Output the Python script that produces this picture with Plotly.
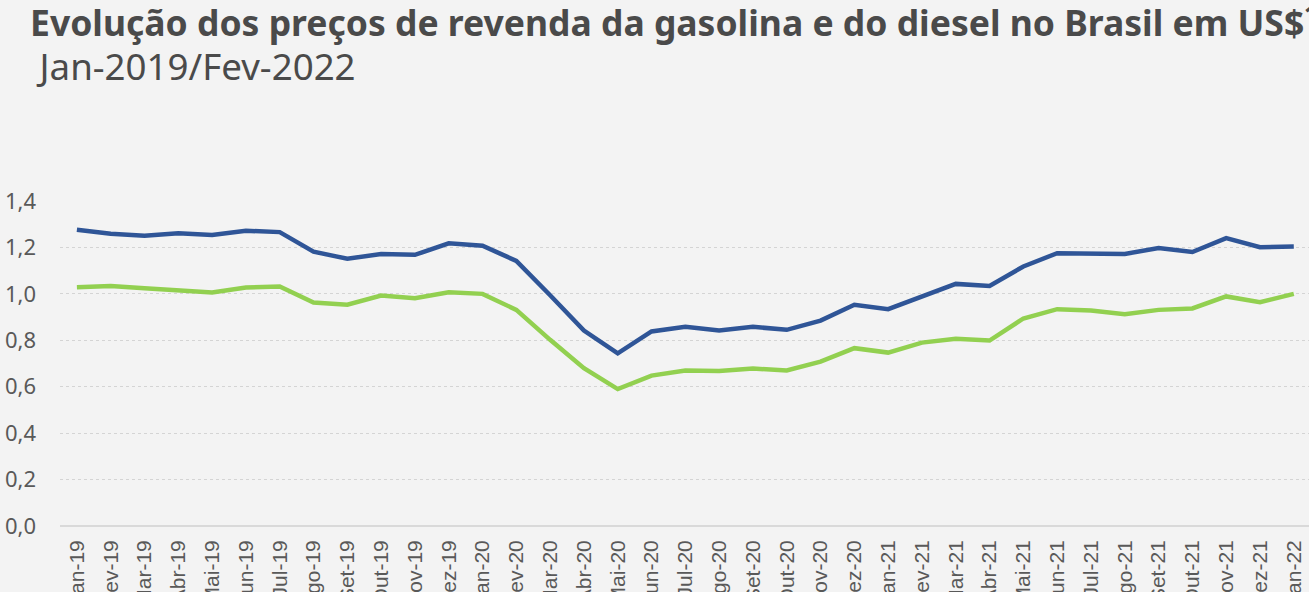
import plotly.graph_objects as go

months = ["Jan-19", "Fev-19", "Mar-19", "Abr-19", "Mai-19", "Jun-19", "Jul-19", "Ago-19", "Set-19", "Out-19", "Nov-19", "Dez-19",
          "Jan-20", "Fev-20", "Mar-20", "Abr-20", "Mai-20", "Jun-20", "Jul-20", "Ago-20", "Set-20", "Out-20", "Nov-20", "Dez-20",
          "Jan-21", "Fev-21", "Mar-21", "Abr-21", "Mai-21", "Jun-21", "Jul-21", "Ago-21", "Set-21", "Out-21", "Nov-21", "Dez-21",
          "Jan-22"]

gasolina = [1.276, 1.259, 1.250, 1.261, 1.254, 1.272, 1.266, 1.182, 1.151, 1.172, 1.168, 1.218,
            1.207, 1.142, 0.994, 0.842, 0.744, 0.838, 0.858, 0.842, 0.858, 0.845, 0.885, 0.953,
            0.934, 0.989, 1.043, 1.034, 1.118, 1.175, 1.172, 1.172, 1.197, 1.180, 1.240, 1.201,
            1.204]

diesel = [1.029, 1.034, 1.024, 1.017, 1.006, 1.027, 1.032, 0.963, 0.953, 0.993, 0.981, 1.007,
          1.000, 0.931, 0.802, 0.680, 0.590, 0.648, 0.670, 0.668, 0.678, 0.670, 0.708, 0.766,
          0.747, 0.790, 0.807, 0.799, 0.894, 0.934, 0.928, 0.912, 0.931, 0.937, 0.989, 0.964,
          1.000]

y_ticks = [0.0, 0.2, 0.4, 0.6, 0.8, 1.0, 1.2, 1.4]

title_line1 = "Evolução dos preços de revenda da gasolina e do diesel no Brasil em US$¹"
title_line2 = "Jan-2019/Fev-2022"

BG = "#f3f3f3"
TEXT = "#595959"
TITLE = "#4a4a4a"

fig = go.Figure()
fig.add_trace(go.Scatter(x=months, y=gasolina, mode="lines", name="Gasolina",
                         line=dict(color="#2f5597", width=4.5), showlegend=False))
fig.add_trace(go.Scatter(x=months, y=diesel, mode="lines", name="Diesel",
                         line=dict(color="#92d050", width=4.5), showlegend=False))

title_html = ("<span style='font-size:35.5px'><b>" + title_line1 + "</b></span><br>"
              "<span style='font-size:36.7px'>&nbsp;" + title_line2 + "</span>")
fig.add_annotation(text=title_html, xref="paper", yref="paper",
                   x=-0.0255, y=1.4815, xanchor="left", yanchor="middle", align="left",
                   showarrow=False,
                   font=dict(family="Noto Sans", size=34, color=TITLE))

fig.update_layout(
    width=1309, height=592,
    paper_bgcolor=BG, plot_bgcolor=BG,
    margin=dict(l=60, r=0, t=201, b=66, pad=0),
    separators=", ",
    font=dict(family="Noto Sans", color=TEXT),
    xaxis=dict(
        type="category",
        range=[-0.5, 36.45],
        automargin=False,
        showgrid=False, zeroline=False,
        showline=False,
        tickangle=-90,
        ticks="", ticklabelstandoff=9,
        tickfont=dict(family="Liberation Sans", size=21, color=TEXT),
    ),
    yaxis=dict(
        range=[0, 1.4],
        automargin=False,
        tickvals=y_ticks,
        tickformat=".1f",
        showgrid=True, gridcolor="#d4d4d4", griddash="dot", gridwidth=1.3,
        zeroline=True, zerolinecolor="#d9d9d9", zerolinewidth=2,
        showline=False, ticks="", ticklabelstandoff=23,
        tickfont=dict(family="Noto Sans", size=22, color=TEXT),
    ),
)

fig.write_html("out.html",
               config={"displayModeBar": False},
               post_script="document.body.style.margin='0px';document.body.style.overflow='hidden';document.body.style.background='%s';" % BG)
